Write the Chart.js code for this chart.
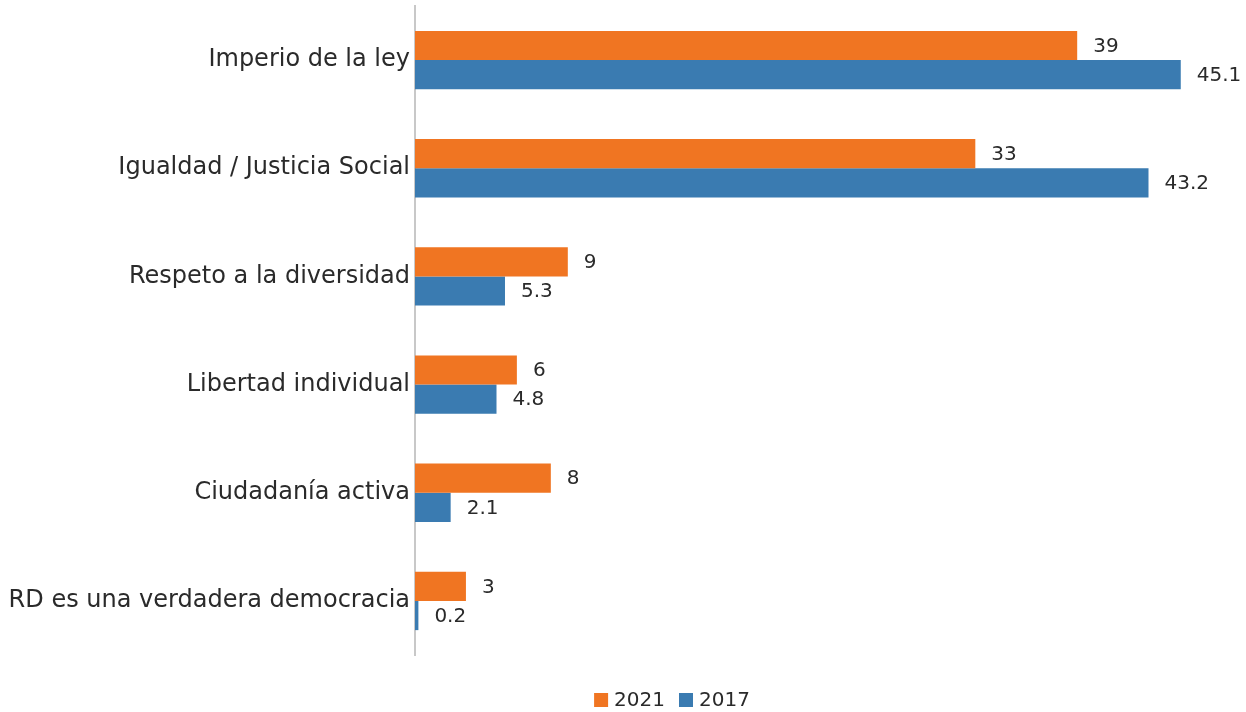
<!DOCTYPE html>
<html>
<head>
<meta charset="utf-8">
<script src="https://cdn.jsdelivr.net/npm/chart.js@4"></script>
<style>
  html, body { margin: 0; padding: 0; background: #fff; }
  #wrap { width: 1246px; height: 712px; }
</style>
</head>
<body>
<div id="wrap"><canvas id="chart"></canvas></div>
<script>
const categories = [
  'Imperio de la ley',
  'Igualdad / Justicia Social',
  'Respeto a la diversidad',
  'Libertad individual',
  'Ciudadanía activa',
  'RD es una verdadera democracia'
];
const values2021 = [39, 33, 9, 6, 8, 3];
const values2017 = [45.1, 43.2, 5.3, 4.8, 2.1, 0.2];

const FONT = "'DejaVu Sans', sans-serif";
const TEXT = '#2a2a2a';

// value labels placed just past the end of each bar
const barLabels = {
  id: 'barLabels',
  afterDatasetsDraw(chart) {
    const ctx = chart.ctx;
    ctx.save();
    ctx.font = '20px ' + FONT;
    ctx.fillStyle = TEXT;
    ctx.textAlign = 'left';
    ctx.textBaseline = 'middle';
    chart.data.datasets.forEach((ds, i) => {
      chart.getDatasetMeta(i).data.forEach((bar, j) => {
        ctx.fillText(String(ds.data[j]), bar.x + 16, bar.y + 1);
      });
    });
    ctx.restore();
  }
};

// compact legend under the plot: small square, tight gap, label
const bottomLegend = {
  id: 'bottomLegend',
  afterDraw(chart) {
    const ctx = chart.ctx;
    const box = 14, gap = 6, itemGap = 14;
    const cx = 672, cy = 700;
    ctx.save();
    ctx.font = '20px ' + FONT;
    ctx.textBaseline = 'middle';
    ctx.textAlign = 'left';
    const items = chart.data.datasets.map(ds => ({
      text: ds.label, color: ds.backgroundColor, w: ctx.measureText(ds.label).width
    }));
    const total = items.reduce((s, it) => s + box + gap + it.w, 0) + itemGap * (items.length - 1);
    let x = cx - total / 2;
    items.forEach(it => {
      ctx.fillStyle = it.color;
      ctx.fillRect(x, cy - box / 2, box, box);
      x += box + gap;
      ctx.fillStyle = TEXT;
      ctx.fillText(it.text, x, cy + 1);
      x += it.w + itemGap;
    });
    ctx.restore();
  }
};

new Chart(document.getElementById('chart'), {
  type: 'bar',
  data: {
    labels: categories,
    datasets: [
      { label: '2021', data: values2021, backgroundColor: '#f07522', categoryPercentage: 0.54, barPercentage: 1 },
      { label: '2017', data: values2017, backgroundColor: '#3a7bb1', categoryPercentage: 0.54, barPercentage: 1 }
    ]
  },
  options: {
    indexAxis: 'y',
    responsive: true,
    maintainAspectRatio: false,
    animation: false,
    layout: { padding: { top: 6, right: 16, left: 0, bottom: 0 } },
    scales: {
      x: {
        min: 0, max: 48,
        grid: { display: false },
        border: { display: false },
        ticks: { display: false },
        afterFit(scale) { scale.height = 57; }
      },
      y: {
        grid: { display: false, drawTicks: false },
        border: { display: true, color: '#c8c8c8', width: 2 },
        ticks: { color: TEXT, font: { family: FONT, size: 24 }, padding: 5 },
        afterFit(scale) {
          scale.width = 415;
          scale.paddingTop = 0;
          scale.paddingBottom = 0;
        }
      }
    },
    plugins: {
      legend: { display: false },
      tooltip: { enabled: false }
    }
  },
  plugins: [barLabels, bottomLegend]
});
</script>
</body>
</html>
